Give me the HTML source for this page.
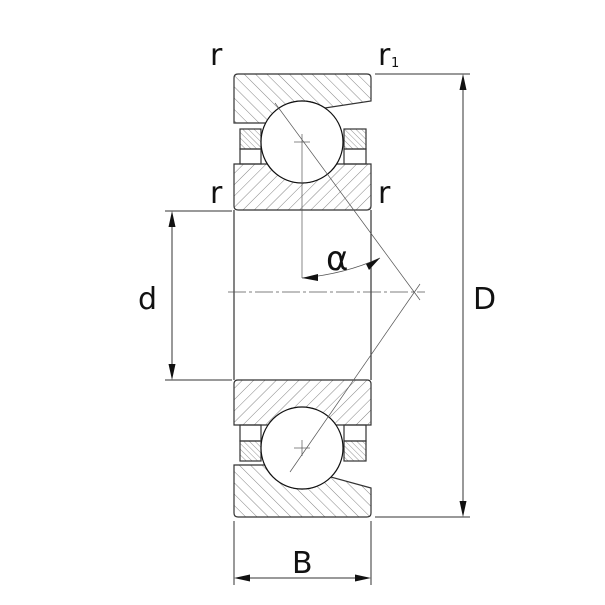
<!DOCTYPE html>
<html><head><style>body{margin:0;background:#fff}svg{display:block}text{font-family:"DejaVu Sans","Liberation Sans",sans-serif;fill:#111}</style></head><body>
<svg width="605" height="605" viewBox="0 0 605 605" xmlns="http://www.w3.org/2000/svg">
<defs>
<pattern id="hA" patternUnits="userSpaceOnUse" width="8" height="8" patternTransform="rotate(45)"><line x1="0" y1="0" x2="0" y2="8" stroke="#666" stroke-width="0.8"/></pattern>
<pattern id="hB" patternUnits="userSpaceOnUse" width="8" height="8" patternTransform="rotate(-45)"><line x1="0" y1="0" x2="0" y2="8" stroke="#666" stroke-width="0.8"/></pattern>
<pattern id="hC" patternUnits="userSpaceOnUse" width="4" height="4" patternTransform="rotate(-45)"><line x1="0" y1="0" x2="0" y2="4" stroke="#666" stroke-width="0.7"/></pattern>
</defs>
<g stroke="#333" stroke-width="1.2" fill="none">
<!-- upper -->
<path d="M238 74 H367 Q371 74 371 78 V101 L325 108 A41 41 0 0 0 265.7 123 H234 V78 Q234 74 238 74Z" fill="url(#hB)"/>
<path d="M234 164 H267.4 A41 41 0 0 0 336.6 164 H371 V206 Q371 210 367 210 H238 Q234 210 234 206Z" fill="url(#hA)"/>
<rect x="240" y="129" width="21" height="20" fill="url(#hC)"/>
<rect x="240" y="149" width="21" height="15"/>
<rect x="344" y="129" width="22" height="20" fill="url(#hC)"/>
<rect x="344" y="149" width="22" height="15"/>
<circle cx="302" cy="142" r="41" fill="#fff" stroke="#111"/>
<!-- lower -->
<path d="M238 380 H367 Q371 380 371 384 V425 H335.9 A41 41 0 0 0 268.1 425 H234 V384 Q234 380 238 380Z" fill="url(#hA)"/>
<path d="M234 465 H264.7 A41 41 0 0 0 331 477 L371 488 V513 Q371 517 367 517 H238 Q234 517 234 513Z" fill="url(#hB)"/>
<rect x="240" y="441" width="21" height="20" fill="url(#hC)"/>
<rect x="240" y="425" width="21" height="16"/>
<rect x="344" y="441" width="22" height="20" fill="url(#hC)"/>
<rect x="344" y="425" width="22" height="16"/>
<circle cx="302" cy="448" r="41" fill="#fff" stroke="#111"/>
<line x1="234" y1="210" x2="234" y2="380"/>
<line x1="371" y1="210" x2="371" y2="380"/>
</g>
<g stroke="#555" stroke-width="0.7" fill="none">
<line x1="228" y1="292" x2="425" y2="292" stroke-dasharray="18 3 3 3"/>
<line x1="275" y1="103" x2="420" y2="300"/>
<line x1="420" y1="284" x2="290" y2="472"/>
<line x1="302" y1="150" x2="302" y2="278"/>
<line x1="294" y1="142" x2="310" y2="142"/><line x1="302" y1="134" x2="302" y2="150"/>
<line x1="294" y1="448" x2="310" y2="448"/><line x1="302" y1="440" x2="302" y2="456"/>
<path d="M302 278 Q345 274 380 258"/>
</g>
<g fill="#111">
<path d="M302 278 l16 -4 l0 7z"/>
<path d="M380 258 l-11 12 l-3 -6z"/>
</g>
<g stroke="#333" stroke-width="1" fill="none">
<line x1="375" y1="74" x2="470" y2="74"/><line x1="375" y1="517" x2="470" y2="517"/>
<line x1="463" y1="80" x2="463" y2="511"/>
<line x1="165" y1="211" x2="232" y2="211"/><line x1="165" y1="380" x2="232" y2="380"/>
<line x1="172" y1="217" x2="172" y2="374"/>
<line x1="234" y1="521" x2="234" y2="585"/><line x1="371" y1="521" x2="371" y2="585"/>
<line x1="240" y1="578" x2="365" y2="578"/>
</g>
<g fill="#111">
<path d="M463 74 l-3.5 16 h7z"/><path d="M463 517 l-3.5 -16 h7z"/>
<path d="M172 211 l-3.5 16 h7z"/><path d="M172 380 l-3.5 -16 h7z"/>
<path d="M234 578 l16 -3.5 v7z"/><path d="M371 578 l-16 -3.5 v7z"/>
</g>
<text x="210" y="65" font-size="30">r</text>
<text x="378" y="65" font-size="30">r</text><text x="391" y="67" font-size="13">1</text>
<text x="210" y="203" font-size="30">r</text>
<text x="378" y="203" font-size="30">r</text>
<text x="326" y="270" font-size="34">α</text>
<text x="138" y="309" font-size="30">d</text>
<text x="473" y="309" font-size="30">D</text>
<text x="292" y="573" font-size="30">B</text>
</svg>
</body></html>
